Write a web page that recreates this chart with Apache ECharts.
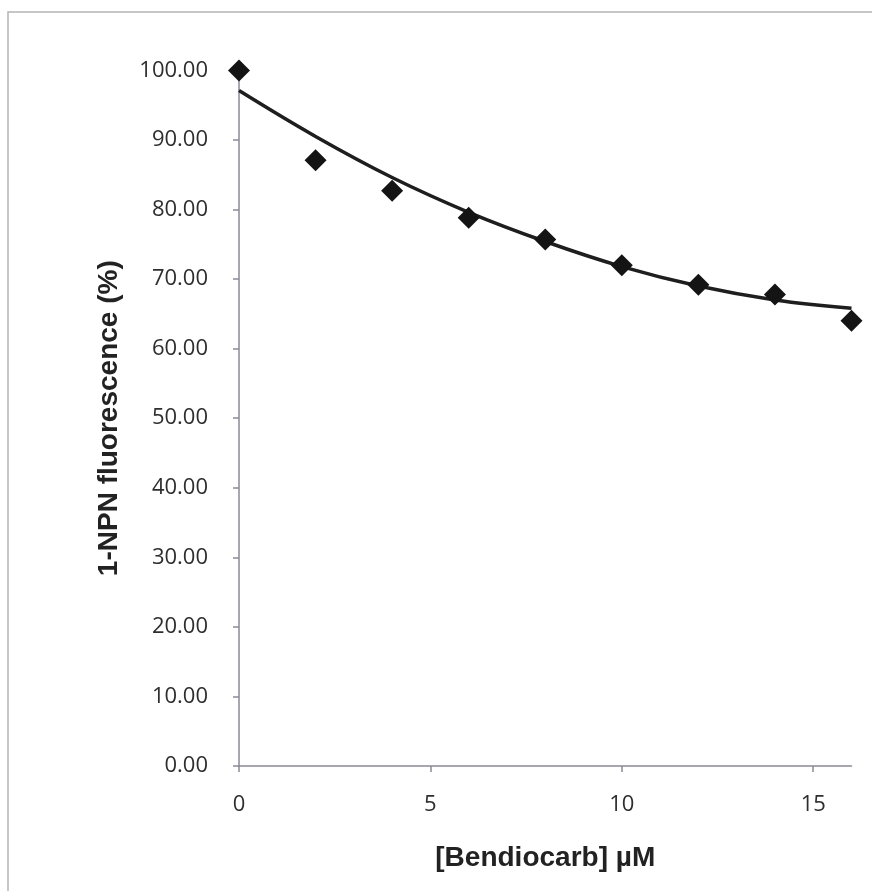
<!DOCTYPE html>
<html>
<head>
<meta charset="utf-8">
<title>Bendiocarb</title>
<script src="https://cdn.jsdelivr.net/npm/echarts@6/dist/echarts.min.js"></script>
<style>
    html, body { margin: 0; padding: 0; background: #fff; }
    #chart { width: 872px; height: 891px; }
</style>
</head>
<body>
<div id="chart"></div>
<script>
// 测量点 (浓度, 荧光%)
var concX = [0, 2, 4, 6, 8, 10, 12, 14, 16];
var fluoY = [100.0, 87.1, 82.7, 78.8, 75.7, 72.0, 69.2, 67.8, 64.0];

// 趋势线 (从图上读出的点)
var trendX = [0, 2, 4, 6, 8, 10, 12, 14, 16];
var trendY = [97.1, 90.5, 84.6, 79.6, 75.4, 71.8, 69.0, 67.0, 65.8];

// 刻度
var xTicks = [0, 5, 10, 15];

function toPairs(xs, ys) {
    var res = new Array();
    for (var i = 0; i < xs.length; i++) {
        res.push([xs[i], ys[i]]);
    }
    return res;
}

var myChart = echarts.init(document.getElementById('chart'));

var labelFont = {
    fontFamily: 'Open Sans',
    fontSize: 22,
    color: '#2e2e2e'
};

var option = {
    backgroundColor: '#fff',
    animation: false,
    graphic: [{
        type: 'rect',
        shape: { x: 8, y: 12, width: 900, height: 900 },
        style: { fill: 'none', stroke: '#b4b4b4', lineWidth: 1.5 },
        silent: true
    }],
    grid: {
        left: 239,
        right: 20.5,
        top: 70.4,
        bottom: 125
    },
    xAxis: {
        type: 'value',
        min: 0,
        max: 16,
        interval: 5,
        name: '[Bendiocarb] µM',
        nameLocation: 'middle',
        nameGap: 78,
        nameTextStyle: {
            fontFamily: 'Liberation Sans',
            fontWeight: 'bold',
            fontSize: 28,
            lineHeight: 28,
            color: '#222'
        },
        axisLine: { lineStyle: { color: '#8a8a96', width: 1.5 } },
        axisTick: { show: true, length: 6, customValues: xTicks, lineStyle: { color: '#8a8a96', width: 1.5 } },
        axisLabel: Object.assign({ margin: 28, lineHeight: 22, customValues: xTicks }, labelFont),
        splitLine: { show: false }
    },
    yAxis: {
        type: 'value',
        min: 0,
        max: 100,
        interval: 10,
        name: '1-NPN fluorescence (%)',
        nameLocation: 'middle',
        nameGap: 115,
        nameRotate: 90,
        nameTextStyle: {
            fontFamily: 'Liberation Sans',
            fontWeight: 'bold',
            fontSize: 28,
            lineHeight: 30,
            color: '#222'
        },
        axisLine: { show: true, lineStyle: { color: '#8a8a96', width: 1.5 } },
        axisTick: { show: true, length: 6, lineStyle: { color: '#8a8a96', width: 1.5 } },
        axisLabel: Object.assign({
            margin: 31,
            formatter: function (v) { return v.toFixed(2); }
        }, labelFont),
        splitLine: { show: false }
    },
    series: [{
        name: 'trend',
        type: 'line',
        data: toPairs(trendX, trendY),
        smooth: 0.4,
        showSymbol: false,
        lineStyle: { color: '#1e1e1e', width: 3.5 },
        z: 2
    }, {
        name: 'data',
        type: 'scatter',
        data: toPairs(concX, fluoY),
        symbol: 'diamond',
        symbolSize: [22, 22],
        itemStyle: { color: '#141414', opacity: 1 },
        z: 3
    }]
};

myChart.setOption(option);
</script>
</body>
</html>
